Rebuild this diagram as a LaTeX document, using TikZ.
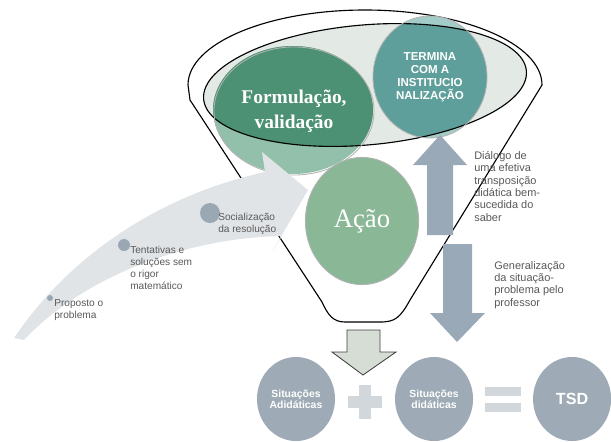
\documentclass[tikz,border=0pt]{standalone}
\usepackage{fontspec}
\setmainfont{Liberation Serif}
\setsansfont{Liberation Sans}
\usetikzlibrary{shapes,calc}

\definecolor{lensfill}{HTML}{E3E9E5}
\definecolor{formdark}{HTML}{4C9174}
\definecolor{formlight}{HTML}{93C0AA}
\definecolor{termdark}{HTML}{5F9F9B}
\definecolor{termlight}{HTML}{A3CCC8}
\definecolor{acaogreen}{HTML}{8AB896}
\definecolor{trackgray}{HTML}{E1E4E7}
\definecolor{dotgray}{HTML}{9AA8B4}
\definecolor{bluegray}{HTML}{9AA9B7}
\definecolor{ballgray}{HTML}{9EAAB5}
\definecolor{signgray}{HTML}{D2D7DC}
\definecolor{textgray}{HTML}{595959}
\definecolor{smallarrow}{HTML}{D5DDD4}

\begin{document}
\begin{tikzpicture}[x=0.025cm,y=-0.025cm,node distance=3.45cm]
\tikzstyle{ball}=[ellipse,inner sep=0pt,align=center]
\tikzstyle{ring}=[ball,draw=gray!60,line width=0.6pt]
\tikzstyle{dot}=[circle,fill=dotgray,inner sep=0pt]
\tikzstyle{steptext}=[anchor=north west,align=left,inner sep=0pt,text=textgray,font=\sffamily\fontsize{7.2}{8.4}\selectfont]
\tikzstyle{sidetext}=[anchor=north west,align=left,inner sep=0pt,text=textgray,font=\sffamily\fontsize{7.8}{8.8}\selectfont]
\tikzstyle{grayball}=[ellipse,fill=ballgray,minimum width=1.95cm,minimum height=2.1cm,inner sep=0pt,align=center,text=white,font=\sffamily\bfseries\fontsize{7.4}{8}\selectfont]
\useasboundingbox (0,0) rectangle (611,441);
\clip (0,0) rectangle (611,441);

% funnel
\filldraw[fill=white,draw=black,line width=0.8pt] (188,85)
    arc[start angle=180,end angle=360,x radius=177,y radius=75]
    -- (410,300) .. controls (400,318) and (395,322) .. (380,322)
    -- (345,322) .. controls (333,322) and (328,315) .. (322,302)
    -- (190,100) -- cycle;
\fill[lensfill,rotate around={5:(365,85)}] (365,85) ellipse[x radius=162,y radius=60];

% top circles
\fill[formlight] (293,110) ellipse[x radius=80,y radius=64];
\fill[termlight] (430,77) ellipse[x radius=57,y radius=61];
\begin{scope}
\clip[rotate around={5:(365,85)}] (365,85) ellipse[x radius=162,y radius=60];
\fill[formdark] (293,110) ellipse[x radius=80,y radius=64];
\fill[termdark] (430,77) ellipse[x radius=57,y radius=61];
\end{scope}
\draw[black,line width=0.8pt,rotate around={5:(365,85)}] (365,85) ellipse[x radius=162,y radius=60];
\node[ring,minimum width=4cm,minimum height=3.2cm,text=white,
    font=\bfseries\fontsize{13.8}{17.5}\selectfont] (form) at (294,111) {Formulação,\\validação};
\node[ring,minimum width=2.85cm,minimum height=3.05cm,text=white,
    font=\sffamily\bfseries\fontsize{8.2}{9.2}\selectfont] (term) at (430,77) {TERMINA\\COM A\\INSTITUCIO\\NALIZAÇÃO};

% curved arrow
\fill[trackgray] (14,338) .. controls (70,255) and (160,195) .. (265,172)
    -- (262,152) -- (308,190) -- (272,252) -- (282,236)
    .. controls (180,238) and (80,280) .. (24,340) -- cycle;

\node[ring,fill=acaogreen,minimum width=2.83cm,minimum height=3.18cm,text=white,
    font=\fontsize{19}{22}\selectfont] (acao) at (362,221) {Ação};

% steps on the arrow
\node[dot,minimum size=0.15cm] (d1) at (50,298) {};
\node[dot,minimum size=0.3cm] (d2) at (124,245) {};
\node[dot,minimum size=0.5cm] (d3) at (210,213) {};
\node[steptext] (t1) at (54,299) {Proposto o\\problema};
\node[steptext] (t2) at (130,246) {Tentativas e\\soluções sem\\o rigor\\matemático};
\node[steptext] (t3) at (218,213) {Socialização\\da resolução};

% up and down arrows
\fill[bluegray] (440,135) -- (467,165) -- (453,165) -- (453,235)
    -- (427,235) -- (427,165) -- (413,165) -- cycle;
\fill[bluegray] (443,244) -- (472,244) -- (472,313) -- (485,313)
    -- (457,342) -- (430,313) -- (443,313) -- cycle;
\node[sidetext] (dialogo) at (474,151) {Diálogo de\\uma efetiva\\transposição\\didática bem-\\sucedida do\\saber};
\node[sidetext] (general) at (494,261) {Generalização\\da situação-\\problema pelo\\professor};

% bottom row
\filldraw[fill=smallarrow,draw=black!75,line width=0.6pt] (347,330) -- (380,330)
    -- (380,352) -- (396,352) -- (363,375) -- (332,352) -- (347,352) -- cycle;
\node[grayball] (adid) at (296,399) {Situações\\Adidáticas};
\node[grayball,right of=adid] (did) {Situações\\didáticas};
\node[grayball,right of=did,font=\sffamily\bfseries\fontsize{11.5}{12}\selectfont] (tsd) {TSD};
\coordinate (plus) at ($(adid)!0.5!(did)$);
\coordinate (equal) at ($(did)!0.5!(tsd)$);
\fill[signgray] ($(plus)+(-17,-3)$) rectangle ($(plus)+(17,9)$);
\fill[signgray] ($(plus)+(-6,-14)$) rectangle ($(plus)+(6,20)$);
\fill[signgray] ($(equal)+(-18,-12)$) rectangle ($(equal)+(18,-3)$);
\fill[signgray] ($(equal)+(-18,4)$) rectangle ($(equal)+(18,13)$);
\end{tikzpicture}
\end{document}
